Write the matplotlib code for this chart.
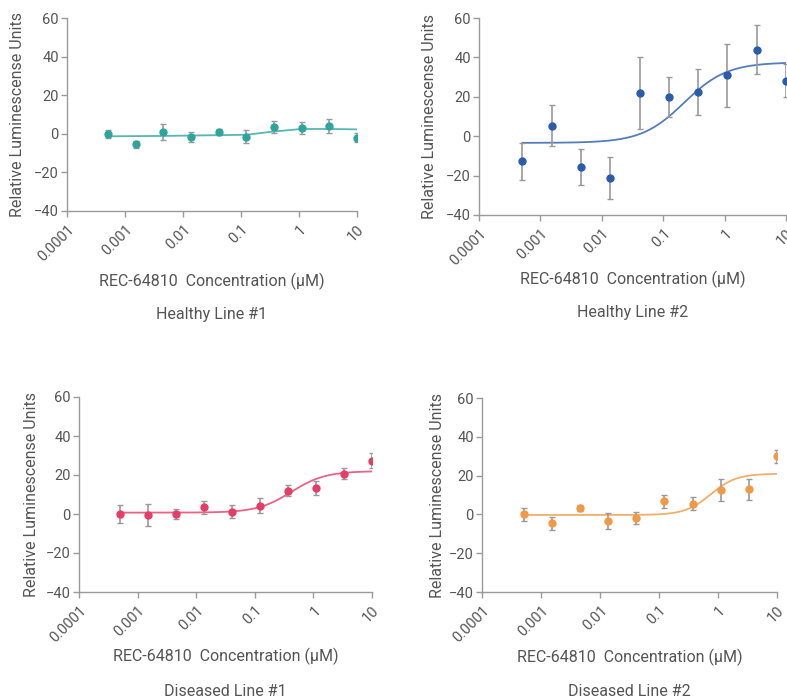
import matplotlib.pyplot as plt
import numpy as np

plt.rcParams['font.family'] = ['Roboto', 'DejaVu Sans']

# concentrations (uM), 3-fold dilution series
conc = [0.000508, 0.00152, 0.00457, 0.0137, 0.0412, 0.123, 0.370, 1.11, 3.33, 10.0]

# Healthy Line #1
h1_mean = [0.0, -5.5, 1.0, -1.5, 1.0, -1.5, 3.5, 3.0, 4.0, -2.0]
h1_err = [2.2, 2.0, 4.0, 2.5, 1.5, 3.5, 3.3, 3.0, 3.5, 2.5]
h1_fit = [-1.3, -1.2, -1.1, -0.9, -0.7, -0.5, 1.2, 2.5, 2.5, 2.3]

# Healthy Line #2
h2_mean = [-12.8, 5.4, -15.6, -21.4, 21.8, 19.7, 22.6, 31.0, 43.9, 28.2]
h2_err = [9.5, 10.2, 9.2, 10.7, 18.3, 10.2, 11.7, 16.0, 12.4, 8.5]
h2_fit = dict(bottom=-3.4, top=37.5, ec50=0.22, hill=1.25)

# Diseased Line #1
d1_mean = [0.0, -0.5, 0.0, 3.4, 1.2, 4.3, 12.0, 13.2, 20.6, 27.4]
d1_err = [4.6, 5.7, 2.6, 3.2, 3.4, 3.9, 2.9, 3.6, 2.9, 3.9]
d1_fit = dict(bottom=0.7, top=22.0, ec50=0.42, hill=1.5)

# Diseased Line #2
d2_mean = [0.0, -4.5, 3.3, -3.3, -2.0, 6.7, 5.5, 12.7, 13.0, 29.9]
d2_err = [3.4, 3.4, 1.7, 4.0, 3.0, 3.4, 3.3, 5.8, 5.4, 3.4]
d2_fit = dict(bottom=-0.3, top=21.0, ec50=0.75, hill=2.0)

titles = ['Healthy Line #1', 'Healthy Line #2', 'Diseased Line #1', 'Diseased Line #2']
colors = ['#2ea59c', '#2b5caa', '#e43d66', '#f09a45']
xticks = [0.0001, 0.001, 0.01, 0.1, 1, 10]
xticklabels = ['0.0001', '0.001', '0.01', '0.1', '1', '10']
yticks = [-40, -20, 0, 20, 40, 60]

W, H = 787, 700
fig = plt.figure(figsize=(W / 100, H / 100), dpi=100)

# axes boxes in pixels: left, right, top, bottom
boxes = [(67, 357, 18, 211), (479, 786, 18, 215), (79, 372, 397, 592), (482, 777, 398, 592)]
ylab_x = [18, 430, 32, 437]
xlab_y = [281, 279, 656, 657]
title_y = [315, 313, 692, 692]

means = [h1_mean, h2_mean, d1_mean, d2_mean]
errs = [h1_err, h2_err, d1_err, d2_err]
fits = [h1_fit, h2_fit, d1_fit, d2_fit]

text_col = '#555555'
axis_col = '#9a9a9a'


def logistic(x, p):
    return p['bottom'] + (p['top'] - p['bottom']) / (1 + (p['ec50'] / x) ** p['hill'])


for i in range(4):
    l, r, t, b = boxes[i]
    ax = fig.add_axes([l / W, 1 - b / H, (r - l) / W, (b - t) / H])
    c = colors[i]

    if isinstance(fits[i], dict):
        xs = np.logspace(np.log10(conc[0]), np.log10(conc[-1]), 200)
        ax.plot(xs, logistic(xs, fits[i]), color=c, lw=1.3, alpha=0.8, zorder=2)
    else:
        ax.plot(conc, fits[i], color=c, lw=1.3, alpha=0.8, zorder=2)

    ax.errorbar(conc, means[i], yerr=errs[i], fmt='none', ecolor='#999999',
                elinewidth=1.2, capsize=2.5, capthick=1.0, zorder=3)
    ax.plot(conc, means[i], 'o', color=c, ms=5, zorder=4)

    ax.set_xscale('log')
    ax.set_xlim(1e-4, 10)
    ax.set_ylim(-40, 60)
    ax.set_xticks(xticks)
    ax.set_xticklabels(xticklabels, rotation=45, ha='right', rotation_mode='anchor')
    ax.minorticks_off()
    ax.set_yticks(yticks)

    for s in ['top', 'right']:
        ax.spines[s].set_visible(False)
    for s in ['left', 'bottom']:
        ax.spines[s].set_color(axis_col)
        ax.spines[s].set_linewidth(1.0)
    ax.tick_params(colors=axis_col, labelcolor=text_col, labelsize=10.5, length=4, width=1.0, pad=2)
    ax.tick_params(axis='x', pad=4)
    ax.patch.set_alpha(0)

    fig.text(ylab_x[i] / W, 1 - (t + b) / 2 / H, 'Relative Luminescense Units', rotation=90,
             ha='center', va='center', fontsize=11.5, color=text_col)
    cx = (l + r) / 2 / W
    fig.text(cx, 1 - xlab_y[i] / H, 'REC-64810  Concentration (µM)', ha='center', va='center',
             fontsize=11.5, color=text_col)
    fig.text(cx, 1 - title_y[i] / H, titles[i], ha='center', va='center',
             fontsize=11.5, color=text_col)

fig.savefig('out.png', dpi=100)
